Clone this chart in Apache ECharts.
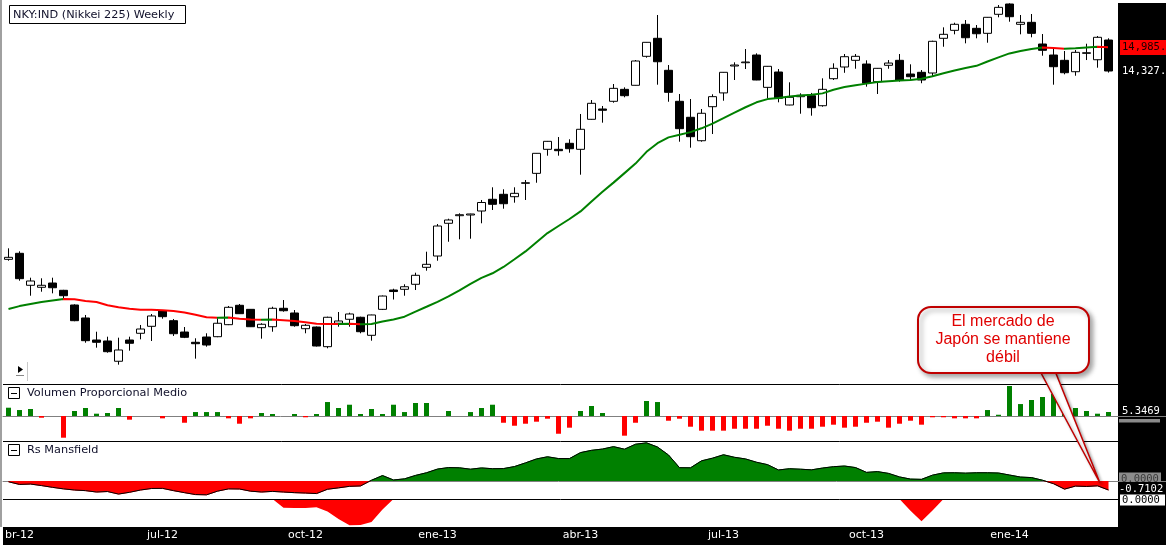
<!DOCTYPE html>
<html><head><meta charset="utf-8">
<script src="https://cdn.jsdelivr.net/npm/echarts@6/dist/echarts.min.js"></script>
<style>html,body{margin:0;padding:0;background:#fff}#c{width:1166px;height:545px}</style>
</head><body><div id="c"></div>
<script>
// ---- data (weekly Nikkei 225) ----
const monthLabels = {1:'br-12',14:'jul-12',27:'oct-12',39:'ene-13',52:'abr-13',65:'jul-13',78:'oct-13',91:'ene-14'};

const open = [10042,10157,9562,9526,9603,9472,9213,8990,8624,8608,
8285,8624,8734,8850,9109,8944,8755,8587,8673,8678,
8877,9208,9138,8827,8843,9156,9075,8810,8838,8516,
8901,8968,9002,8701,9138,9477,9490,9580,9892,10105,
10749,10904,10918,11001,11247,11353,11302,11591,11811,12359,
12359,12500,12359,13079,13336,13531,13840,13946,14730,15239,
14346,13531,13129,12561,13394,13747,14463,14553,14766,13892,
14300,13437,13649,13675,13419,14121,14436,14619,14517,14041,
14482,14619,14246,14292,14273,15239,15470,15647,15529,15383,
15945,16258,15647,15706,15076,14766,14619,14308,14813,14635,
15190];

const close = [10080,9682,9640,9562,9518,9376,8944,8613,8587,8436,
8463,8571,8805,9024,9012,8727,8668,8564,8543,8901,
9173,9063,8843,8884,9156,9114,8860,8867,8527,9002,
8939,9058,8760,9041,9370,9450,9536,9744,9948,10694,
10816,10924,10939,11179,11141,11153,11374,11604,12266,12547,
12327,12373,12835,13480,13304,13866,13675,14600,15124,14580,
13762,12850,12657,13229,13650,14292,14490,14572,14086,14455,
13608,13634,13685,13369,13840,14400,14719,14730,14000,14400,
14544,14086,14174,14086,15153,15354,15647,15256,15371,15855,
16156,15873,15706,15383,14898,14444,14281,14841,14830,15268,
14327];

const low = [10016,9645,9376,9447,9418,9330,8935,8580,8500,8420,
8232,8452,8635,8608,8978,8690,8655,8326,8516,8670,
8870,9058,8838,8646,8760,9097,8843,8734,8519,8490,
8843,8843,8734,8613,9126,9309,9376,9477,9829,10016,
10381,10429,10441,10749,11022,11049,11175,11232,11604,12211,
12211,12280,11781,13070,12996,13495,13634,13940,14691,13962,
13520,12538,12397,12538,12721,13546,14086,14381,14080,13608,
13505,13430,13218,13169,13394,14086,14279,14389,13910,13719,
14389,14041,14086,14000,14192,14999,15354,15095,15239,15113,
15855,15724,15354,15268,14747,13962,14238,14200,14627,14417,
14285];

const high = [10253,10195,9700,9689,9700,9480,9225,9041,8760,8678,
8662,8678,8872,9058,9126,8973,8838,8652,8734,8985,
9196,9230,9143,8901,9183,9300,9126,8889,8846,9012,
9092,9080,9012,9046,9379,9500,9580,9792,10188,10734,
10842,10953,10945,11232,11504,11461,11504,11664,12270,12555,
12649,12595,13211,13564,13412,13980,13892,14627,15130,15924,
14490,13719,13590,13336,13711,14300,14564,14934,14813,14463,
14381,14025,13737,13747,14131,14536,14794,14794,14619,14408,
14627,14794,14509,14354,15170,15558,15694,15774,15626,15864,
16227,16278,15924,15954,15363,14970,14878,14906,15084,15305,
15239];

const ma30 = [9143,9194,9232,9264,9291,9317,9312,9282,9265,9210,
9173,9149,9131,9130,9121,9109,9082,9044,9002,8995,
8998,8978,8963,8959,8963,8951,8938,8916,8893,8889,
8887,8891,8884,8889,8931,8965,9012,9097,9182,9269,
9364,9472,9589,9698,9781,9898,10044,10193,10373,10553,
10694,10836,10993,11202,11407,11606,11816,12030,12301,12502,
12641,12704,12767,12859,12974,13107,13243,13380,13505,13587,
13613,13654,13680,13698,13735,13829,13903,13948,13990,14030,
14054,14075,14086,14121,14185,14265,14343,14408,14468,14588,
14699,14811,14878,14935,14975,14965,14945,14955,14975,14995,
14985];

const volume = [11.1,8.0,9.4,-2.3,0,-29.0,6.7,10.7,3.1,4.0,
10.7,-4.9,0,0,-3.1,0,-9.0,5.3,5.3,5.3,
-3.1,-10.3,-3.1,4.0,2.7,0,2.7,-1.7,2.7,18.7,
10.7,15.1,2.7,9.4,2.7,15.1,5.3,17.4,17.4,0,
6.7,0,5.3,10.7,15.1,-9.0,-13.0,-10.3,-7.6,-3.6,
-23.7,-15.6,6.7,13.4,4.0,0,-26.3,-9.0,20.1,18.7,
-6.3,-3.6,-14.3,-19.6,-19.6,-19.6,-17.0,-17.0,-17.0,-13.0,
-17.0,-19.6,-17.0,-17.0,-14.3,-11.6,-15.6,-14.3,-9.0,-7.6,
-15.6,-10.3,-6.3,-11.6,-1.7,-1.7,-3.1,-3.1,-3.1,8.0,
1.7,40.1,16.0,21.4,25.4,29.4,18.7,10.7,6.7,3.1,
5.3469];

const rsMansfield = [-0.06,-0.27,-0.24,-0.36,-0.50,-0.62,-0.71,-0.76,-0.87,-0.83,
-1.03,-0.89,-0.71,-0.59,-0.58,-0.76,-0.92,-1.07,-1.09,-0.80,
-0.62,-0.63,-0.80,-0.87,-0.82,-0.87,-0.92,-0.95,-0.99,-0.65,
-0.54,-0.42,-0.39,0.06,0.43,0.08,0.17,0.44,0.65,0.94,
1.06,1.04,0.93,1.03,0.97,0.98,1.14,1.43,1.74,1.91,
1.77,1.77,2.24,2.42,2.52,2.71,2.51,2.90,3.01,2.68,
2.05,1.05,1.04,1.59,1.80,2.07,1.87,1.74,1.48,1.29,
0.87,0.97,0.93,0.88,1.02,1.13,1.18,1.06,0.68,0.74,
0.60,0.32,0.15,0.13,0.46,0.64,0.65,0.62,0.65,0.65,
0.63,0.47,0.31,0.27,0.06,-0.21,-0.64,-0.40,-0.43,-0.38,
-0.7102];

const rsLower = [0,0,0,0,0,0,0,0,0,0,
0,0,0,0,0,0,0,0,0,0,
0,0,0,0,0,-0.69,-0.71,-0.71,-0.65,-0.99,
-1.58,-2.08,-2.05,-1.81,-0.83,0,0,0,0,0,
0,0,0,0,0,0,0,0,0,0,
0,0,0,0,0,0,0,0,0,0,
0,0,0,0,0,0,0,0,0,0,
0,0,0,0,0,0,0,0,0,0,
0,0,-0.92,-1.76,-0.91,0,0,0,0,0,
0,0,0,0,0,0,0,0,0,0,
0];

const titleText = 'NKY:IND (Nikkei 225) Weekly';
const volTitle = 'Volumen Proporcional Medio';
const rsTitle = 'Rs Mansfield';
const maLabel = '14,985.';
const priceLabel = '14,327.';
const volLabel = '5.3469';
const rsLabel = '-0.7102';
const zeroLabel = '0.0000';
const noteLines = ['El mercado de', 'Japón se mantiene', 'débil'];

// ---- chart ----
const GREEN = '#008000', RED = '#ff0000';
const N = close.length;
const cats = close.map((_, i) => 'W' + (i + 1));
const candleData = open.map((o, i) => [o, close[i], low[i], high[i]]);

const maPieces = [];
let segStart = 0, dir = ma30[1] >= ma30[0] ? 1 : -1;
for (let i = 1; i < N - 1; i++) {
  const d = ma30[i + 1] >= ma30[i] ? 1 : -1;
  if (d !== dir) { maPieces.push({gte: segStart, lt: i, color: dir > 0 ? GREEN : RED}); segStart = i; dir = d; }
}
maPieces.push({gte: segStart, lte: N - 1, color: dir > 0 ? GREEN : RED});

const FONT = '"DejaVu Sans", sans-serif';
const MONO = '"DejaVu Sans Mono", monospace';

function xAxisFor(gi, extra) {
  return Object.assign({
    type: 'category', gridIndex: gi, data: cats, boundaryGap: true,
    axisTick: {show: false}, axisLabel: {show: false}, splitLine: {show: false}, axisLine: {show: false}
  }, extra || {});
}
function hiddenY(gi, type, min, max) {
  return {type, gridIndex: gi, min, max, show: false, splitLine: {show: false}};
}

const txt = (x, y, text, font, fill, z, align) => ({
  type: 'text', x, y, z: z || 20,
  style: {text, font, fill, textAlign: align || 'left', align: align || 'left', textVerticalAlign: 'middle', verticalAlign: 'middle'}
});
const hline = (x1, x2, y, color, z) => ({type: 'line', z: z || 6, shape: {x1, y1: y, x2, y2: y}, style: {stroke: color, lineWidth: 1}});

const rsMin = -1.42, rsMax = 3.156;

const option = {
  animation: false,
  backgroundColor: '#fff',
  textStyle: {fontFamily: FONT},
  grid: [
    {left: 3, top: 3, width: 1111, height: 381, outerBoundsMode: 'none'},
    {left: 3, top: 384, width: 1111, height: 57, outerBoundsMode: 'none'},
    {left: 3, top: 441, width: 1111, height: 58, outerBoundsMode: 'none'},
    {left: 3, top: 499, width: 1111, height: 28, outerBoundsMode: 'none'}
  ],
  xAxis: [
    xAxisFor(0),
    xAxisFor(1, {axisLine: {show: true, onZero: true, lineStyle: {color: '#808080', width: 1}}}),
    xAxisFor(2, {axisLine: {show: true, onZero: true, lineStyle: {color: '#808080', width: 1}}}),
    xAxisFor(3, {
      z: 10,
      axisLine: {show: false, onZero: false},
      axisLabel: {show: true, interval: 0, margin: 3, color: '#fff', fontSize: 11, fontFamily: FONT,
        formatter: (v, i) => monthLabels[i] || ''}
    })
  ],
  yAxis: [
    hiddenY(0, 'log', 7937, 16289),
    hiddenY(1, 'value', -33.4, 42.8),
    hiddenY(2, 'value', rsMin, rsMax),
    hiddenY(3, 'value', -2.21, 0)
  ],
  visualMap: [
    {type: 'piecewise', show: false, seriesIndex: 1, dimension: 0, pieces: maPieces},
    {type: 'piecewise', show: false, seriesIndex: 3, dimension: 1,
      pieces: [{gte: rsMin - 1, lt: 0, color: RED}, {gte: 0, lte: rsMax + 1, color: GREEN}]}
  ],
  series: [
    {type: 'candlestick', xAxisIndex: 0, yAxisIndex: 0, data: candleData, barWidth: 8,
      itemStyle: {color: '#fff', color0: '#000', borderColor: '#000', borderColor0: '#000', borderColorDoji: '#000', borderWidth: 1}},
    {type: 'line', xAxisIndex: 0, yAxisIndex: 0, data: ma30, symbol: 'none', z: 3, lineStyle: {width: 2}},
    {type: 'bar', xAxisIndex: 1, yAxisIndex: 1, data: volume, barWidth: 5,
      itemStyle: {color: p => (p.value >= 0 ? GREEN : RED)}},
    {type: 'line', xAxisIndex: 2, yAxisIndex: 2, data: rsMansfield, symbol: 'none', lineStyle: {width: 1}, areaStyle: {opacity: 1}},
    {type: 'line', xAxisIndex: 2, yAxisIndex: 2, data: rsMansfield, symbol: 'none', z: 4, lineStyle: {color: '#000', width: 1}},
    {type: 'line', xAxisIndex: 3, yAxisIndex: 3, data: rsLower, symbol: 'none', lineStyle: {color: RED, width: 1, opacity: 0}, areaStyle: {color: RED, opacity: 1}}
  ],
  graphic: [
    // frame strips
    {type: 'rect', z: 1, shape: {x: 1118, y: 3, width: 48, height: 542}, style: {fill: '#000'}},
    {type: 'rect', z: 1, shape: {x: 3, y: 527, width: 1163, height: 18}, style: {fill: '#000'}},
    {type: 'line', z: 6, shape: {x1: 1, y1: 0, x2: 1, y2: 527}, style: {stroke: '#a0a0a0', lineWidth: 2}},
    hline(3, 1118, 384.5, '#000'),
    hline(3, 1118, 441.5, '#000'),
    hline(3, 1118, 499.5, '#000'),
    hline(1114, 1166, 416.5, '#808080', 7),
    hline(1114, 1166, 481.5, '#808080', 7),
    // title box
    {type: 'rect', z: 20, shape: {x: 9.5, y: 5.5, width: 176, height: 18}, style: {fill: '#fff', stroke: '#000', lineWidth: 1}},
    txt(13, 15, titleText, '11.3px ' + FONT, '#10102a', 21),
    // panel titles
    {type: 'rect', z: 20, shape: {x: 8.5, y: 387.5, width: 11, height: 11}, style: {fill: '#fff', stroke: '#000', lineWidth: 1}},
    hline(11, 17, 393.5, '#000', 21),
    txt(27, 393.5, volTitle, '11.3px ' + FONT, '#10102a', 21),
    {type: 'rect', z: 20, shape: {x: 8.5, y: 444.5, width: 11, height: 11}, style: {fill: '#fff', stroke: '#000', lineWidth: 1}},
    hline(11, 17, 450.5, '#000', 21),
    txt(27, 450.5, rsTitle, '11.3px ' + FONT, '#10102a', 21),
    // small play icon
    {type: 'polygon', z: 20, shape: {points: [[18, 366], [18, 373], [23, 369.5]]}, style: {fill: '#000'}},
    hline(16, 24, 375.5, '#888', 20),
    {type: 'line', z: 20, shape: {x1: 27.5, y1: 362, x2: 27.5, y2: 381}, style: {stroke: '#c8c8c8', lineWidth: 1}},
    // right scale labels
    {type: 'rect', z: 20, shape: {x: 1120, y: 40, width: 46, height: 15}, style: {fill: '#ff0000'}},
    txt(1122, 47.5, maLabel, '10.5px ' + MONO, '#1a0000', 21),
    txt(1122, 71, priceLabel, '10.5px ' + MONO, '#ffffff', 21),
    txt(1122, 411.5, volLabel, '10.5px ' + MONO, '#ffffff', 21),
    {type: 'rect', z: 20, shape: {x: 1119, y: 419, width: 41, height: 3.5}, style: {fill: '#8a8a8a'}},
    {type: 'rect', z: 20, shape: {x: 1119, y: 472.5, width: 42, height: 9}, style: {fill: '#8c8c8c'}},
    txt(1121, 479, zeroLabel, '10.5px ' + MONO, '#3a3a3a', 21),
    txt(1119, 489, rsLabel, '10.5px ' + MONO, '#ffffff', 22),
    {type: 'rect', z: 23, shape: {x: 1119.5, y: 494, width: 46, height: 12}, style: {fill: '#fff', stroke: '#000', lineWidth: 1}},
    txt(1122, 500, zeroLabel, '10.5px ' + MONO, '#000', 24),
    // callout
    {type: 'polygon', z: 50, shape: {points: [[1040, 371], [1055, 371], [1100, 483]]},
      style: {fill: '#fff', stroke: '#c00000', lineWidth: 1.5, shadowBlur: 3, shadowOffsetX: 2, shadowOffsetY: 2, shadowColor: 'rgba(0,0,0,0.3)'}},
    {type: 'rect', z: 51, shape: {x: 918, y: 307, width: 171, height: 66, r: 13},
      style: {fill: '#fff', stroke: '#c00000', lineWidth: 2, shadowBlur: 5, shadowOffsetX: 3, shadowOffsetY: 3, shadowColor: 'rgba(0,0,0,0.35)'}},
    txt(1003, 322, noteLines[0], '16px "Liberation Sans", Arial, sans-serif', '#e00000', 52, 'center'),
    txt(1003, 340, noteLines[1], '16px "Liberation Sans", Arial, sans-serif', '#e00000', 52, 'center'),
    txt(1003, 357.5, noteLines[2], '16px "Liberation Sans", Arial, sans-serif', '#e00000', 52, 'center')
  ]
};

const chart = echarts.init(document.getElementById('c'), null, {renderer: 'canvas', width: 1166, height: 545});
chart.setOption(option);
</script>
</body></html>
